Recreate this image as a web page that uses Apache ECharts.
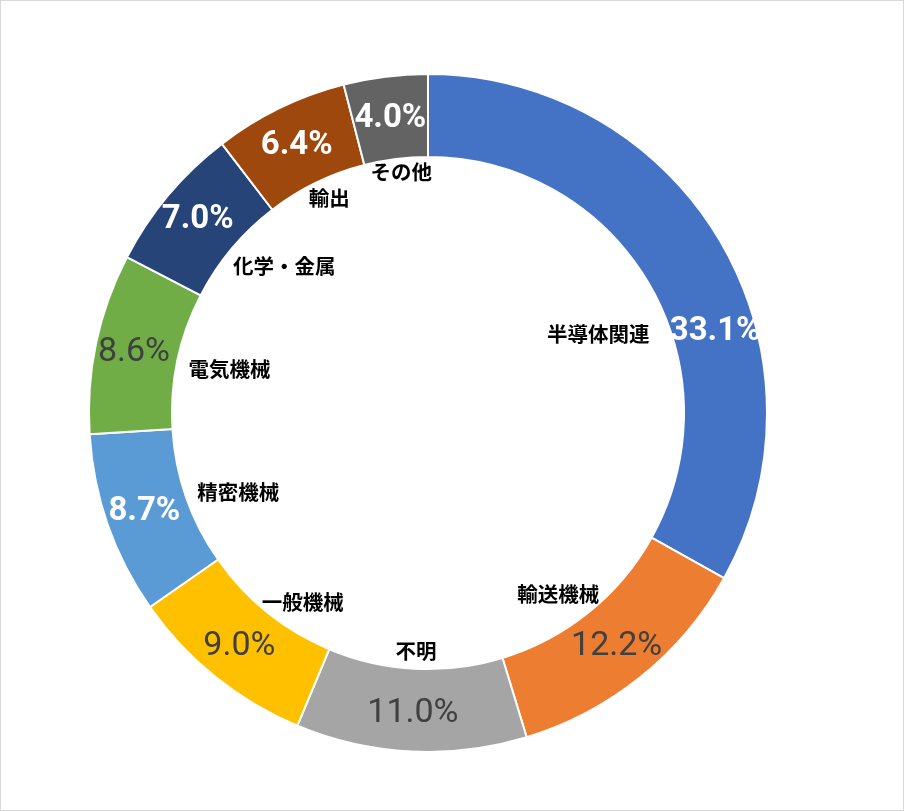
<!DOCTYPE html>
<html>
<head>
<meta charset="utf-8">
<script src="https://cdn.jsdelivr.net/npm/echarts@6/dist/echarts.min.js"></script>
<style>
  html, body { margin: 0; padding: 0; background: #fff; }
  #chart { position: absolute; left: 0; top: 0; width: 904px; height: 811px; }
  #frame { position: absolute; left: 0; top: 0; width: 904px; height: 811px; box-sizing: border-box; border: 1px solid #d9d9d9; pointer-events: none; }
</style>
</head>
<body>
<div id="chart"></div>
<div id="frame"></div>
<script>
// ---- data ----
const categories = ['半導体関連', '輸送機械', '不明', '一般機械', '精密機械', '電気機械', '化学・金属', '輸出', 'その他'];
const shares = [33.1, 12.2, 11.0, 9.0, 8.7, 8.6, 7.0, 6.4, 4.0];

// ---- style / layout ----
const colors = ['#4472C4', '#ED7D31', '#A5A5A5', '#FFC000', '#5B9BD5', '#70AD47', '#264478', '#9E480E', '#636363'];
const darkText = [false, true, true, true, false, true, false, false, false];
// small manual label nudges (pixels), as in the hand-placed original labels
const pctNudge = [[28, 71], [0, 0], [0, 0], [0, 0], [0, 0], [0, 1], [0, 0], [0, 3], [0, 4]];
const nameNudge = [[1, 21], [-4, 15], [0, -2], [9, 23], [2, 12], [0, -2], [10, -18], [2, -7], [3, -5]];

const CX = 428, CY = 413, R_IN = 256, R_OUT = 339;
const total = shares.reduce((a, b) => a + b, 0);
const midAngles = [];
(function () {
  let cum = 0;
  shares.forEach(v => { midAngles.push((cum + v / 2) / total * 2 * Math.PI); cum += v; });
})();

const chart = echarts.init(document.getElementById('chart'), null, { renderer: 'canvas' });

const pctData = categories.map((name, i) => ({
  name: name,
  value: shares[i],
  itemStyle: { color: colors[i] },
  label: darkText[i]
    ? { color: '#404040', fontWeight: 'normal', fontSize: 34 }
    : { color: '#ffffff', fontWeight: 'bold', fontSize: 33 }
}));

const nameData = categories.map((name, i) => ({ name: name, value: shares[i] }));

chart.setOption({
  backgroundColor: '#ffffff',
  animation: false,
  series: [
    {
      type: 'pie',
      center: [CX, CY],
      radius: [R_IN, R_OUT],
      startAngle: 90,
      clockwise: true,
      avoidLabelOverlap: false,
      silent: true,
      itemStyle: { borderColor: '#ffffff', borderWidth: 2 },
      label: {
        show: true,
        position: 'inside',
        fontFamily: 'Roboto, "Liberation Sans", sans-serif',
        fontSize: 34,
        formatter: p => p.value.toFixed(1) + '%'
      },
      labelLine: { show: false },
      emphasis: { disabled: true },
      labelLayout: function (params) {
        const n = pctNudge[params.dataIndex];
        return { dx: n[0], dy: n[1] };
      },
      data: pctData
    },
    {
      type: 'pie',
      center: [CX, CY],
      radius: [R_IN, R_OUT],
      startAngle: 90,
      clockwise: true,
      avoidLabelOverlap: false,
      silent: true,
      z: 3,
      itemStyle: { color: 'rgba(0,0,0,0)', borderWidth: 0 },
      label: {
        show: true,
        position: 'inside',
        color: '#000000',
        fontFamily: '"Noto Sans CJK JP", sans-serif',
        fontWeight: 'bold',
        fontSize: 20.5,
        lineHeight: 22,
        formatter: '{b}'
      },
      labelLine: { show: false },
      emphasis: { disabled: true },
      labelLayout: function (params) {
        const i = params.dataIndex;
        const a = midAngles[i];
        const ux = Math.sin(a), uy = -Math.cos(a);
        const w = params.labelRect.width, h = params.labelRect.height;
        const pad = 3 + 8 * Math.abs(ux);
        const d = R_IN - pad - (Math.abs(ux) * w / 2 + Math.abs(uy) * h / 2);
        const n = nameNudge[i];
        return { x: CX + ux * d + n[0], y: CY + uy * d + n[1], align: 'center', verticalAlign: 'middle' };
      },
      data: nameData
    }
  ]
});
</script>
</body>
</html>
